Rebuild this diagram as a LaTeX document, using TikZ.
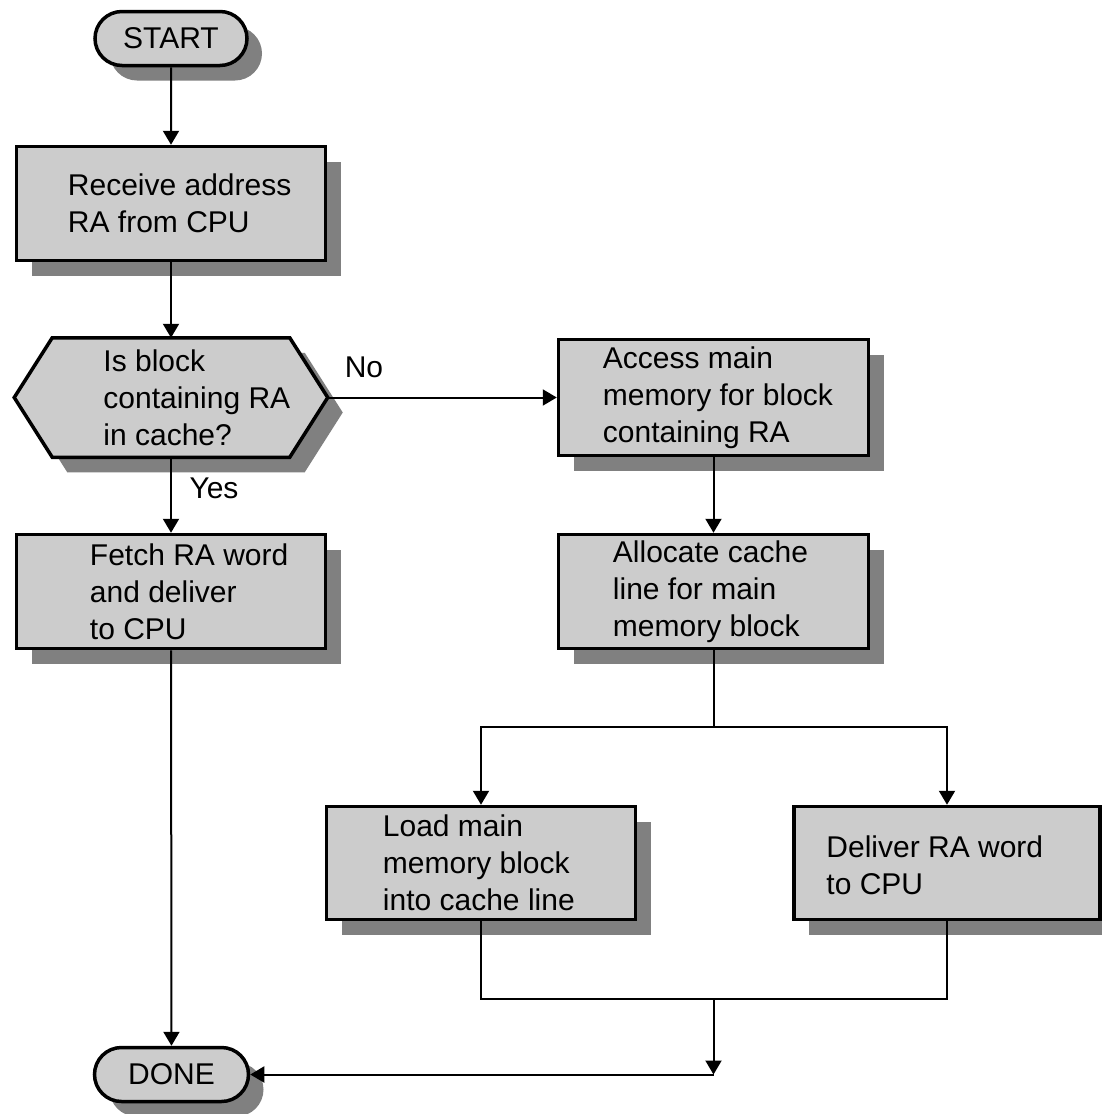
\documentclass[tikz,border=0pt]{standalone}
\usepackage{fontspec}
\setmainfont{Liberation Sans}
\usetikzlibrary{positioning,shadows,shapes.misc,arrows.meta}

\definecolor{flowLine}{RGB}{0,0,0}
\definecolor{flowFill}{RGB}{204,204,204}
\definecolor{flowShade}{RGB}{128,128,128}

\tikzset{
  flowshade/.style={general shadow={shadow xshift=15pt, shadow yshift=-15pt, fill=flowShade}},
  procbox/.style={draw=flowLine, line width=3.5pt, fill=flowFill, flowshade,
    minimum width=309pt, minimum height=114pt, inner sep=0pt},
  termbox/.style={rounded rectangle, draw=flowLine, line width=3.5pt, fill=flowFill, flowshade,
    minimum width=152pt, minimum height=54pt, inner sep=0pt},
  hexline/.style={draw=flowLine, line width=3.5pt, fill=flowFill, flowshade},
  flowtext/.style={inner sep=0pt, align=left, anchor=west},
  flowline/.style={draw=flowLine, line width=2pt},
  flowarrow/.style={flowline, -{Triangle[length=14pt, width=16pt]}}
}

\begin{document}
\begin{tikzpicture}[x=1pt, y=-1pt, font=\fontsize{30}{37}\selectfont]
  \useasboundingbox (0,0) rectangle (1101,1114);

  \node[termbox] (start) at (171,38.5) {START};

  \node[procbox] (recv) at (171,203.5) {};
  \node[flowtext, right=53pt of recv.west] (recvtxt) {Receive address\\RA from CPU};

  \node[minimum width=310pt, minimum height=116pt, inner sep=0pt, outer sep=1.75pt] (test) at (171,397.5) {};
  \draw[hexline] ([xshift=38pt]test.north west) -- ([xshift=-38pt]test.north east) -- (test.east)
    -- ([xshift=-38pt]test.south east) -- ([xshift=38pt]test.south west) -- (test.west) -- cycle;
  \node[flowtext, right=89pt of test.west] (testtxt) {Is block\\containing RA\\in cache?};

  \node[procbox] (fetch) at (171,591.5) {};
  \node[flowtext, right=75pt of fetch.west] (fetchtxt) {Fetch RA word\\and deliver\\to CPU};

  \node[termbox, minimum width=154pt] (done) at (171.5,1074.5) {DONE};

  \node[procbox, minimum width=310pt, minimum height=116pt] (access) at (713.5,397.5) {};
  \node[flowtext, right=46pt of access.west] (accesstxt) {Access main\\memory for block\\containing RA};

  \node[procbox, minimum width=310pt] (alloc) at (713.5,591.5) {};
  \node[flowtext, right=56pt of alloc.west] (alloctxt) {Allocate cache\\line for main\\memory block};

  \node[procbox, minimum height=113pt] (load) at (481,863) {};
  \node[flowtext, right=58pt of load.west] (loadtxt) {Load main\\memory block\\into cache line};

  \node[procbox, minimum width=306pt, minimum height=113pt] (deliver) at (947,863) {};
  \node[flowtext, right=34pt of deliver.west, yshift=-2pt] (delivertxt) {Deliver RA word\\to CPU};

  \draw[flowarrow] (start) -- (recv);
  \draw[flowarrow] (recv) -- (test.north);
  \draw[flowarrow] (test.east) -- (access.west);
  \node (nolbl) at (364,367) {No};
  \draw[flowarrow] (test.south) -- (fetch);
  \node[anchor=base] (yeslbl) at (214,498) {Yes};
  \draw[flowarrow] (fetch) -- (done);
  \draw[flowarrow] (access) -- (alloc);

  \draw[flowline] (alloc.south) -- ++(0,77) coordinate (split);
  \draw[flowarrow] (split) -| (load.north);
  \draw[flowarrow] (split) -| (deliver.north);

  \coordinate (merge) at (split |- 0,999);
  \coordinate (back) at (merge |- done.east);
  \draw[flowline] (load.south) |- (merge) -| (deliver.south);
  \draw[flowarrow] (merge) -- (back);
  \draw[flowarrow] (back) -- (done.east);
\end{tikzpicture}
\end{document}
